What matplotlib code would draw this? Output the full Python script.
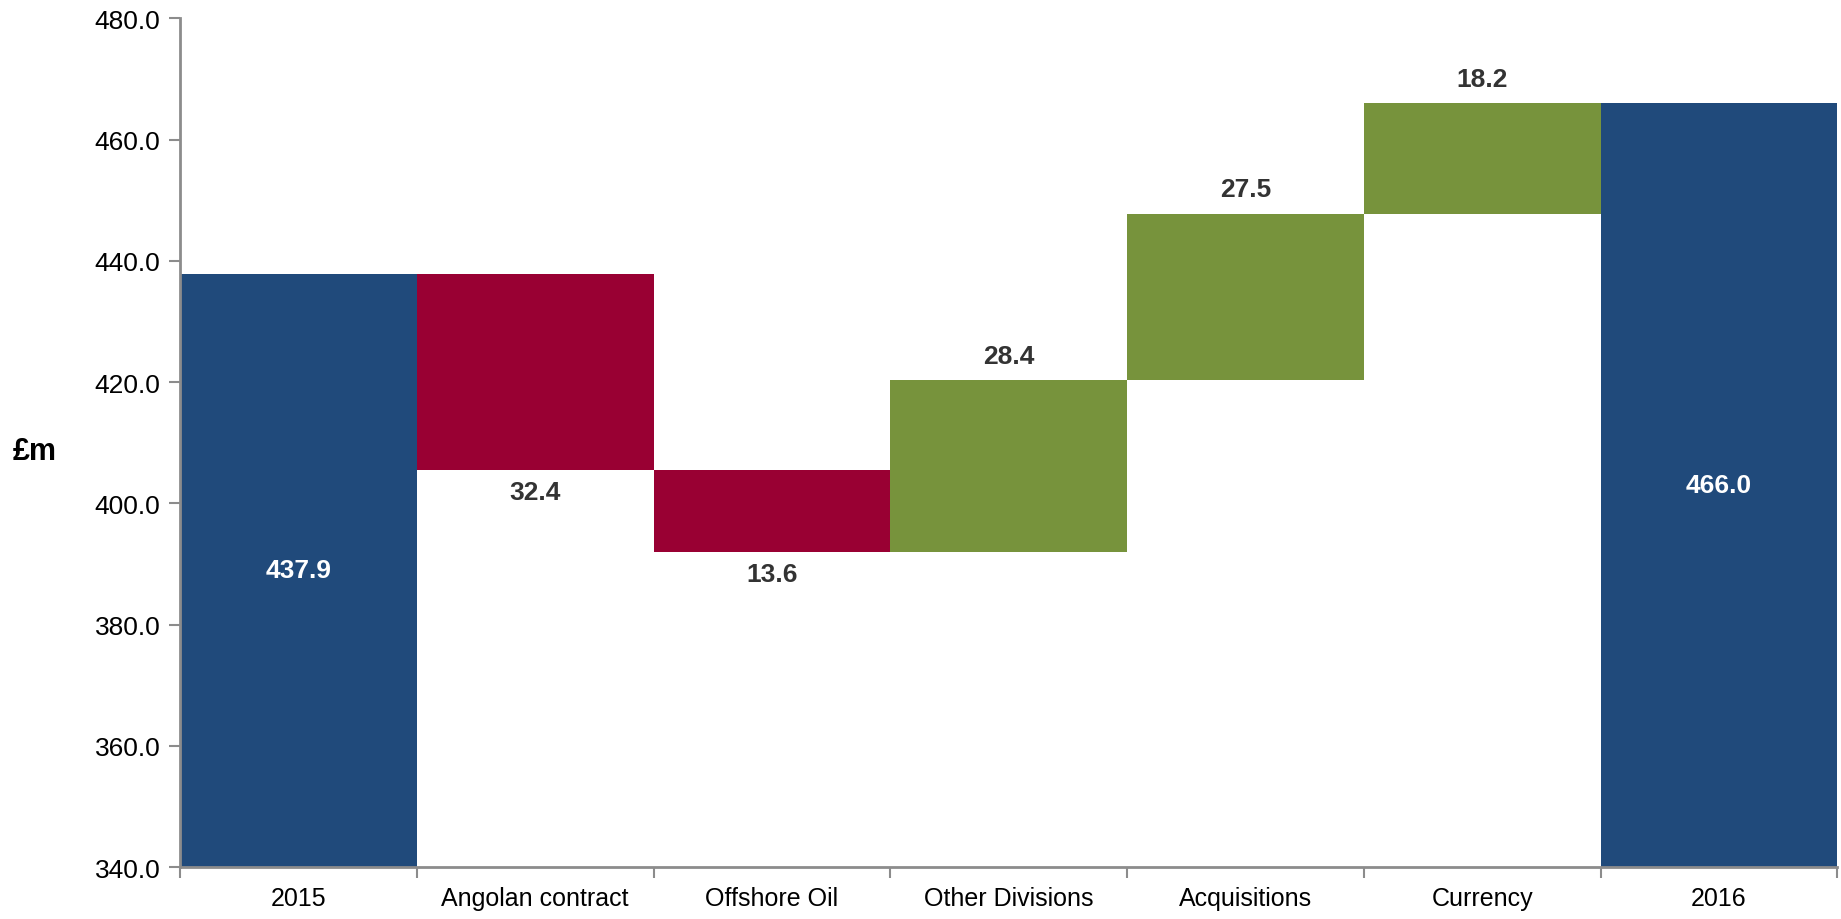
import matplotlib
matplotlib.use("Agg")
import matplotlib.pyplot as plt
from matplotlib.ticker import FixedLocator, FuncFormatter

categories = ["2015", "Angolan contract", "Offshore Oil", "Other Divisions", "Acquisitions", "Currency", "2016"]
start_value = 437.9
changes = [-32.4, -13.6, 28.4, 27.5, 18.2]
end_value = 466.0
yticks = [340, 360, 380, 400, 420, 440, 460, 480]

BLUE = "#204A7B"
RED = "#990033"
GREEN = "#77933C"
AXIS = "#8C8C8C"
LABEL = "#333333"

plt.rcParams['font.family'] = ['Liberation Sans', 'DejaVu Sans']

fig = plt.figure(figsize=(18.41, 9.2), dpi=100)
ax = fig.add_axes([0.0978, 0.0565, 0.9002, 0.9225])
ymin = 340
VFS = 19

ax.bar(0, start_value - ymin, bottom=ymin, width=1.0, color=BLUE)
ax.text(0, (start_value + ymin) / 2, f"{start_value:.1f}", ha="center", va="center",
        color="white", fontsize=VFS, fontweight="bold")
level = start_value
for i, ch in enumerate(changes, start=1):
    new = level + ch
    lo, hi = min(level, new), max(level, new)
    col = GREEN if ch > 0 else RED
    ax.bar(i, hi - lo, bottom=lo, width=1.0, color=col)
    if ch > 0:
        ax.text(i, hi + 2.0, f"{abs(ch):.1f}", ha="center", va="bottom", color=LABEL,
                fontsize=VFS, fontweight="bold")
    else:
        ax.text(i, lo - 1.6, f"{abs(ch):.1f}", ha="center", va="top", color=LABEL,
                fontsize=VFS, fontweight="bold")
    level = new
n = len(categories) - 1
ax.bar(n, end_value - ymin, bottom=ymin, width=1.0, color=BLUE)
ax.text(n, (end_value + ymin) / 2, f"{end_value:.1f}", ha="center", va="center",
        color="white", fontsize=VFS, fontweight="bold")

ax.set_xlim(-0.5, len(categories) - 0.5)
ax.set_ylim(340, 480)
ax.set_yticks(yticks)
ax.yaxis.set_major_formatter(FuncFormatter(lambda v, p: f"{v:.1f}"))
ax.set_xticks(range(len(categories)))
ax.set_xticklabels(categories)
ax.xaxis.set_minor_locator(FixedLocator([i - 0.5 for i in range(len(categories) + 1)]))
ax.tick_params(axis="x", which="major", length=0, pad=14, labelsize=18, colors="black")
ax.tick_params(axis="x", which="minor", length=8, width=1.5, color=AXIS, direction="out")
ax.tick_params(axis="y", length=8, width=1.5, color=AXIS, labelsize=19, pad=6)
for s in ["top", "right"]:
    ax.spines[s].set_visible(False)
for s in ["left", "bottom"]:
    ax.spines[s].set_color(AXIS)
    ax.spines[s].set_linewidth(2)

fig.text(0.007, 0.509, "£m", fontsize=22, fontweight="bold", ha="left", va="center")

fig.savefig("out.png", dpi=100)
